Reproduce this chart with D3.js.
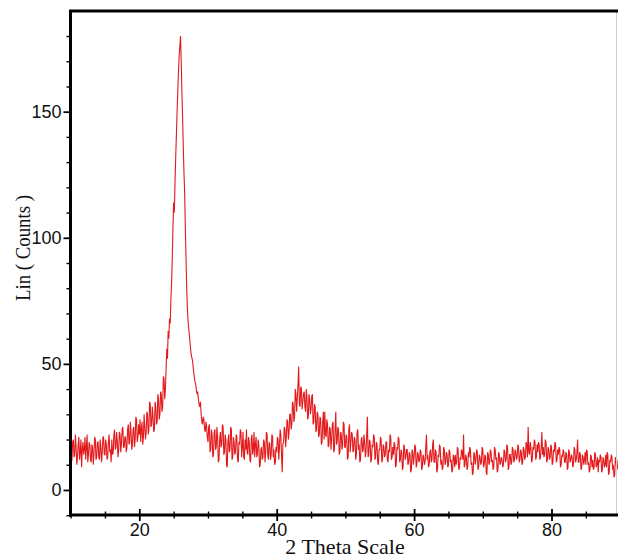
<!DOCTYPE html>
<html>
<head>
<meta charset="utf-8">
<script src="https://cdn.jsdelivr.net/npm/d3@7"></script>
<style>
  html, body { margin: 0; padding: 0; background: #fff; }
  svg { display: block; }
</style>
</head>
<body>
<svg id="chart" width="618" height="558"></svg>
<script>
// Scan settings (2θ start and step, degrees)
const scanStart = 10;
const scanStep = 0.1;

// Intensity (counts), one row per degree: 10 readings per row (x.0 ... x.9)
const counts = [
  18, 11, 12, 19, 20, 13, 14, 22, 17, 10,   // 10
  13, 18, 21, 12, 15, 20,  9, 16, 19, 14,   // 11
  16, 21, 12, 17, 22, 11, 14, 19, 18, 12,   // 12
  11, 18, 17, 10, 14, 21, 20, 12, 13, 19,   // 13
  19, 13, 12, 20, 17, 11, 15, 21, 21, 14,   // 14
  14, 20, 18, 12, 13, 19, 22, 15, 16, 11,   // 15
  20, 14, 15, 22, 24, 16, 17, 23, 19, 13,   // 16
  16, 23, 22, 15, 18, 24, 25, 17, 17, 21,   // 17
  21, 15, 17, 24, 26, 18, 19, 27, 23, 16,   // 18
  18, 24, 25, 17, 20, 29, 28, 19, 21, 26,   // 19
  22, 28, 19, 24, 27, 18, 21, 30, 25, 20,   // 20
  23, 31, 30, 22, 24, 35, 34, 25, 26, 33,   // 21
  29, 23, 24, 35, 33, 26, 27, 38, 36, 28,   // 22
  30, 39, 38, 31, 33, 45, 44, 36, 40, 48,   // 23
  56, 52, 63, 60, 68, 66, 76, 82, 92, 104,  // 24
 114, 110, 122, 132, 141, 150, 158, 166, 172, 176, // 25
 180, 170, 158, 148, 136, 126, 118, 104, 92, 80,   // 26
  72, 67, 64, 61, 58, 55, 53, 52, 50, 47,   // 27
  45, 43, 42, 40, 38, 39, 36, 34, 33, 35,   // 28
  30, 27, 26, 29, 28, 24, 23, 27, 25, 21,   // 29
  19, 25, 26, 15, 16, 24, 22, 13, 14, 23,   // 30
  24, 16, 17, 25, 21, 11, 12, 20, 23, 17,   // 31
  18, 26, 25, 14, 15, 22, 20, 10,  9, 19,   // 32
  22, 15, 16, 25, 24, 12, 13, 21, 19, 14,   // 33
  15, 22, 21, 12, 11, 19, 18, 24, 23, 13,   // 34
  17, 23, 13, 12, 20, 16, 24, 15, 14, 21,   // 35
  19, 12, 11, 20, 22, 14, 16, 23, 13, 18,   // 36
  21, 13, 14, 20, 18,  9, 10, 16, 17, 12,   // 37
  13, 20, 19, 11, 15, 23, 22, 14, 12, 19,   // 38
  18, 12, 14, 22, 21, 13, 16, 10, 11, 17,   // 39
  15, 21, 20, 12, 17, 24, 22, 14,  7, 18,   // 40
  19, 25, 24, 17, 21, 28, 27, 20, 23, 30,   // 41
  30, 24, 26, 35, 34, 27, 29, 40, 38, 31,   // 42
  36, 42, 49, 34, 33, 41, 40, 32, 35, 38,   // 43
  39, 33, 31, 40, 37, 28, 29, 38, 36, 30,   // 44
  32, 37, 38, 26, 27, 34, 33, 23, 24, 31,   // 45
  30, 21, 22, 29, 28, 18, 19, 27, 31, 20,   // 46
  31, 22, 21, 28, 26, 17, 18, 25, 24, 16,   // 47
  20, 26, 27, 15, 16, 24, 31, 18, 19, 25,   // 48
  24, 14, 15, 23, 22, 16, 18, 27, 26, 17,   // 49
  17, 22, 21, 12, 13, 24, 26, 15, 19, 23,   // 50
  22, 15, 16, 21, 20, 12, 14, 23, 24, 16,   // 51
  18, 11, 12, 20, 21, 15, 16, 22, 19, 13,   // 52
  15, 22, 29, 13, 14, 20, 19, 11, 12, 18,   // 53
  17, 22, 21, 12, 13, 19, 18, 11, 10, 16,   // 54
  16, 21, 20, 11, 12, 18, 17, 13, 14, 19,   // 55
  19, 12, 11, 16, 15, 22, 21, 12, 13, 17,   // 56
  14, 19, 18,  9, 10, 17, 16, 21, 20, 11,   // 57
  12, 16, 15,  8,  9, 18, 17, 12, 13, 16,   // 58
  16, 10, 11, 15, 14,  7,  8, 16, 15, 10,   // 59
  13, 18, 17,  9, 10, 15, 14, 11, 12, 16,   // 60
  15,  8,  9, 14, 13, 10, 11, 17, 22, 12,   // 61
  14,  9, 10, 15, 16, 11, 12, 18, 20, 11,   // 62
  11, 16, 15,  7,  8, 14, 13, 18, 17, 10,   // 63
  12,  8,  9, 17, 16, 10, 11, 15, 14,  9,   // 64
  10, 16, 15, 11, 12,  7,  8, 14, 13,  9,   // 65
  14, 10, 11, 17, 16,  8,  9, 13, 12, 16,   // 66
  15, 12, 22,  9, 10, 14, 13,  8,  9, 15,   // 67
  13, 17, 16, 10, 11,  6,  7, 15, 14, 10,   // 68
  12, 16, 15,  8,  9, 14, 13, 10, 11, 17,   // 69
  16,  9, 10, 14, 13,  7,  6, 15, 14, 10,   // 70
  11, 16, 15, 11, 12,  8,  9, 17, 16, 12,   // 71
  13,  7,  8, 15, 14, 10, 11, 13, 12,  9,   // 72
  10, 16, 15, 11, 12, 18, 17,  8,  9, 14,   // 73
  14, 10, 11, 17, 16, 11, 12, 16, 15, 12,   // 74
  13, 18, 17, 11, 12, 16, 15, 10, 11, 17,   // 75
  16, 12, 13, 19, 18, 13, 25, 15, 14, 19,   // 76
  17, 11, 12, 17, 16, 20, 19, 12, 13, 18,   // 77
  15, 19, 18, 12, 13, 17, 23, 14, 17, 13,   // 78
  14, 20, 19, 11, 12, 17, 16, 12, 13, 18,   // 79
  17, 10, 11, 16, 15, 19, 18, 11, 12, 16,   // 80
  14, 17, 16,  9, 10, 14, 13, 16, 15, 11,   // 81
  11, 15, 14,  8,  9, 16, 15, 11, 12, 14,   // 82
  13,  9, 10, 17, 16, 11, 12, 15, 20, 11,   // 83
  11, 15, 14,  8,  9, 14, 13, 10, 12, 15,   // 84
  10, 16, 15, 10, 11,  7,  8, 14, 13,  9,   // 85
  12,  8,  9, 15, 14,  9, 10, 13,  7, 12,   // 86
  11, 14, 13,  7,  8, 13, 12,  9, 10, 14,   // 87
   9, 15, 14,  6,  7, 12, 11, 14, 13,  8,   // 88
  10,  5,  6, 13, 12,  8,  9, 12, 11,  7,   // 89
  10                                        // 90
];

// Axis ticks
const xMajorTicks = [20, 40, 60, 80];
const xMinorTicks = [10, 15, 25, 30, 35, 45, 50, 55, 65, 70, 75, 85, 90];
const yMajorTicks = [0, 50, 100, 150];
const yMinorTicks = [-10, 10, 20, 30, 40, 60, 70, 80, 90, 110, 120, 130, 140, 160, 170, 180];

const xTitle = "2 Theta Scale";
const yTitle = "Lin ( Counts )";

const svg = d3.select("#chart");

const x = d3.scaleLinear().domain([10, 90]).range([70.6, 620.2]);
const y = d3.scaleLinear().domain([-10, 190]).range([515.2, 10.8]);

const axisY0 = 515;   // x-axis line position
const axisX0 = 70.5;  // y-axis line position

// Data line
const line = d3.line()
  .x((d, i) => x(scanStart + i * scanStep))
  .y(d => y(d));

svg.append("defs").append("clipPath").attr("id", "plotclip")
  .append("rect").attr("x", 71).attr("y", 12).attr("width", 547).attr("height", 502);

svg.append("path")
  .datum(counts)
  .attr("clip-path", "url(#plotclip)")
  .attr("fill", "none")
  .attr("stroke", "#e3191c")
  .attr("stroke-width", 1.1)
  .attr("stroke-linejoin", "miter")
  .attr("d", line);

// Frame: faint right edge, thick top border
svg.append("line")
  .attr("x1", 616.5).attr("x2", 616.5).attr("y1", 12).attr("y2", 514)
  .attr("stroke", "#d0d0d0").attr("stroke-width", 1);
svg.append("line")
  .attr("x1", 69).attr("x2", 618).attr("y1", 11).attr("y2", 11)
  .attr("stroke", "#000").attr("stroke-width", 3);

// X axis
const gx = svg.append("g").attr("transform", `translate(0,${axisY0})`);
gx.append("g")
  .call(d3.axisBottom(x).tickValues(xMinorTicks).tickSize(0).tickFormat(""))
  .call(g => g.select(".domain").remove())
  .call(g => g.selectAll(".tick line").attr("y1", -3.5).attr("y2", 3.5)
    .attr("stroke", "#000").attr("stroke-width", 1.4));
gx.append("g")
  .call(d3.axisBottom(x).tickValues(xMajorTicks).tickSize(0).tickPadding(8).tickFormat(d3.format("d")))
  .call(g => g.select(".domain").remove())
  .call(g => g.selectAll(".tick line").attr("y1", -6).attr("y2", 6)
    .attr("stroke", "#000").attr("stroke-width", 1.8))
  .call(g => g.selectAll(".tick text")
    .attr("y", 8).attr("dy", "0.71em")
    .attr("font-family", "Liberation Sans, Arial, sans-serif")
    .attr("font-size", 18).attr("fill", "#111"));
gx.append("line")
  .attr("x1", 69).attr("x2", 618).attr("y1", 0).attr("y2", 0)
  .attr("stroke", "#000").attr("stroke-width", 3);

// Y axis
const gy = svg.append("g").attr("transform", `translate(${axisX0},0)`);
gy.append("g")
  .call(d3.axisLeft(y).tickValues(yMinorTicks).tickSize(4).tickFormat(""))
  .call(g => g.select(".domain").remove())
  .call(g => g.selectAll(".tick line").attr("stroke", "#000").attr("stroke-width", 1.4));
gy.append("g")
  .call(d3.axisLeft(y).tickValues(yMajorTicks).tickSize(7).tickPadding(2).tickFormat(d3.format("d")))
  .call(g => g.select(".domain").remove())
  .call(g => g.selectAll(".tick line").attr("stroke", "#000").attr("stroke-width", 1.8))
  .call(g => g.selectAll(".tick text")
    .attr("font-family", "Liberation Sans, Arial, sans-serif")
    .attr("font-size", 18).attr("fill", "#111"));
gy.append("line")
  .attr("x1", 0).attr("x2", 0).attr("y1", 10).attr("y2", 516.5)
  .attr("stroke", "#000").attr("stroke-width", 3);

// Axis titles
svg.append("text")
  .attr("x", 345).attr("y", 554)
  .attr("text-anchor", "middle")
  .attr("font-family", "Liberation Serif, Times New Roman, serif")
  .attr("font-size", 22).attr("fill", "#111")
  .text(xTitle);

svg.append("text")
  .attr("transform", "translate(30,248) rotate(-90)")
  .attr("text-anchor", "middle")
  .attr("font-family", "Liberation Serif, Times New Roman, serif")
  .attr("font-size", 21).attr("fill", "#111")
  .attr("textLength", 106).attr("lengthAdjust", "spacingAndGlyphs")
  .text(yTitle);
</script>
</body>
</html>
